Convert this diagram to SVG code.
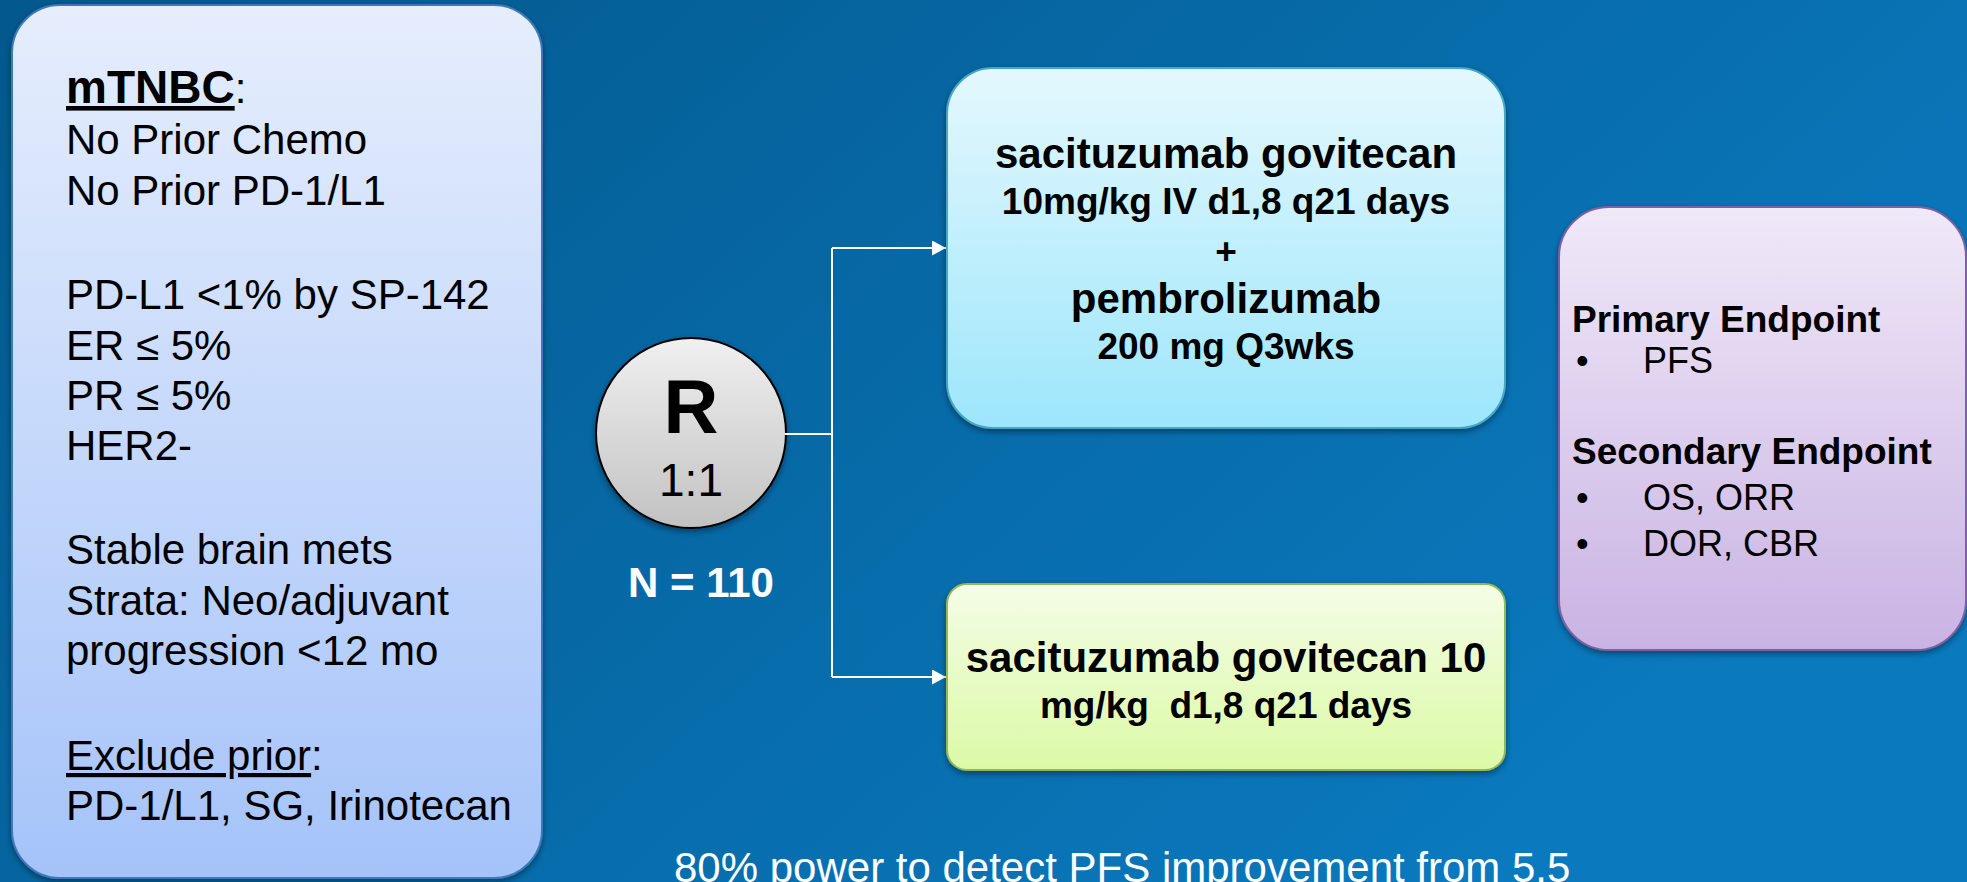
<svg xmlns="http://www.w3.org/2000/svg" width="1967" height="882" viewBox="0 0 1967 882">
  <defs>
    <linearGradient id="bg" x1="0" y1="0" x2="1" y2="0.5">
      <stop offset="0" stop-color="#03588c"/>
      <stop offset="1" stop-color="#0a79be"/>
    </linearGradient>
    <linearGradient id="gLeft" x1="0" y1="0" x2="0" y2="1">
      <stop offset="0" stop-color="#e6eefd"/>
      <stop offset="1" stop-color="#a5c3f9"/>
    </linearGradient>
    <linearGradient id="gTop" x1="0" y1="0" x2="0" y2="1">
      <stop offset="0" stop-color="#e4f8fe"/>
      <stop offset="1" stop-color="#9de6fb"/>
    </linearGradient>
    <linearGradient id="gBot" x1="0" y1="0" x2="0" y2="1">
      <stop offset="0" stop-color="#f4fde6"/>
      <stop offset="1" stop-color="#dbfaa6"/>
    </linearGradient>
    <linearGradient id="gPur" x1="0" y1="0" x2="0" y2="1">
      <stop offset="0" stop-color="#f0e9f8"/>
      <stop offset="1" stop-color="#c9b3e3"/>
    </linearGradient>
    <linearGradient id="gCirc" x1="0" y1="0" x2="0" y2="1">
      <stop offset="0" stop-color="#f0f0f0"/>
      <stop offset="1" stop-color="#c2c2c2"/>
    </linearGradient>
    <filter id="shadow" x="-10%" y="-10%" width="120%" height="125%">
      <feDropShadow dx="0" dy="3" stdDeviation="3" flood-color="#000" flood-opacity="0.4"/>
    </filter>
    <marker id="arrow" markerUnits="userSpaceOnUse" markerWidth="14" markerHeight="15" refX="14" refY="7.5" orient="auto">
      <path d="M0,0 L14,7.5 L0,15 z" fill="#ffffff"/>
    </marker>
    <style>
      text { font-family: "Liberation Sans", Arial, sans-serif; fill: #000; }
      .reg { font-size: 42px; }
      .b42 { font-size: 42px; font-weight: bold; }
      .b37 { font-size: 37px; font-weight: bold; }
      .r36 { font-size: 36px; }
      .mid { text-anchor: middle; }
      .white { fill: #ffffff; }
      .conn { stroke: #ffffff; stroke-width: 2; fill: none; }
    </style>
  </defs>

  <rect x="0" y="0" width="1967" height="882" fill="url(#bg)"/>

  <g id="criteria">
    <rect x="12" y="5" width="530" height="873" rx="48" ry="48" fill="url(#gLeft)" stroke="#3f78b8" stroke-width="2" filter="url(#shadow)"/>
    <text x="66" y="103"><tspan font-size="46" font-weight="bold" text-decoration="underline">mTNBC</tspan><tspan font-size="42">:</tspan></text>
    <text class="reg" x="66" y="154">No Prior Chemo</text>
    <text class="reg" x="66" y="205">No Prior PD-1/L1</text>
    <text class="reg" x="66" y="309">PD-L1 &lt;1% by SP-142</text>
    <text class="reg" x="66" y="360">ER ≤ 5%</text>
    <text class="reg" x="66" y="410">PR ≤ 5%</text>
    <text class="reg" x="66" y="460">HER2-</text>
    <text class="reg" x="66" y="564">Stable brain mets</text>
    <text class="reg" x="66" y="615">Strata: Neo/adjuvant</text>
    <text class="reg" x="66" y="665">progression &lt;12 mo</text>
    <text class="reg" x="66" y="770"><tspan text-decoration="underline">Exclude prior</tspan>:</text>
    <text class="reg" x="66" y="820">PD-1/L1, SG, Irinotecan</text>
  </g>

  <g id="randomize">
    <circle cx="691" cy="433" r="95" fill="url(#gCirc)" stroke="#000" stroke-width="2" filter="url(#shadow)"/>
    <text class="mid" x="691" y="433" font-size="76" font-weight="bold">R</text>
    <text class="mid" x="691" y="496" font-size="46">1:1</text>
  </g>

  <g id="n-label">
    <text class="b42 mid white" x="701" y="597">N = 110</text>
  </g>

  <g id="connectors">
    <path class="conn" d="M785,434 H832"/>
    <path class="conn" d="M832,248 V677"/>
    <path class="conn" d="M832,248 H946" marker-end="url(#arrow)"/>
    <path class="conn" d="M832,677 H946" marker-end="url(#arrow)"/>
  </g>

  <g id="arm-combo">
    <rect x="947" y="68" width="558" height="360" rx="46" ry="46" fill="url(#gTop)" stroke="#47a7c4" stroke-width="2" filter="url(#shadow)"/>
    <text class="b42 mid" x="1226" y="168">sacituzumab govitecan</text>
    <text class="b37 mid" x="1226" y="214">10mg/kg IV d1,8 q21 days</text>
    <text class="b37 mid" x="1226" y="264">+</text>
    <text class="b42 mid" x="1226" y="313">pembrolizumab</text>
    <text class="b37 mid" x="1226" y="359">200 mg Q3wks</text>
  </g>

  <g id="arm-sg">
    <rect x="947" y="584" width="558" height="186" rx="20" ry="20" fill="url(#gBot)" stroke="#95b756" stroke-width="2" filter="url(#shadow)"/>
    <text class="b42 mid" x="1226" y="672">sacituzumab govitecan 10</text>
    <text class="b37 mid" x="1226" y="718" xml:space="preserve">mg/kg  d1,8 q21 days</text>
  </g>

  <g id="endpoints">
    <rect x="1559" y="207" width="407" height="443" rx="50" ry="50" fill="url(#gPur)" stroke="#7f60a0" stroke-width="2" filter="url(#shadow)"/>
    <text class="b37" x="1572" y="332">Primary Endpoint</text>
    <text class="r36" x="1576" y="373">•</text>
    <text class="r36" x="1643" y="373">PFS</text>
    <text class="b37" x="1572" y="464">Secondary Endpoint</text>
    <text class="r36" x="1576" y="510">•</text>
    <text class="r36" x="1643" y="510">OS, ORR</text>
    <text class="r36" x="1576" y="556">•</text>
    <text class="r36" x="1643" y="556">DOR, CBR</text>
  </g>

  <g id="footnote">
    <text class="reg white" x="674" y="882">80% power to detect PFS improvement from 5.5</text>
  </g>
</svg>
